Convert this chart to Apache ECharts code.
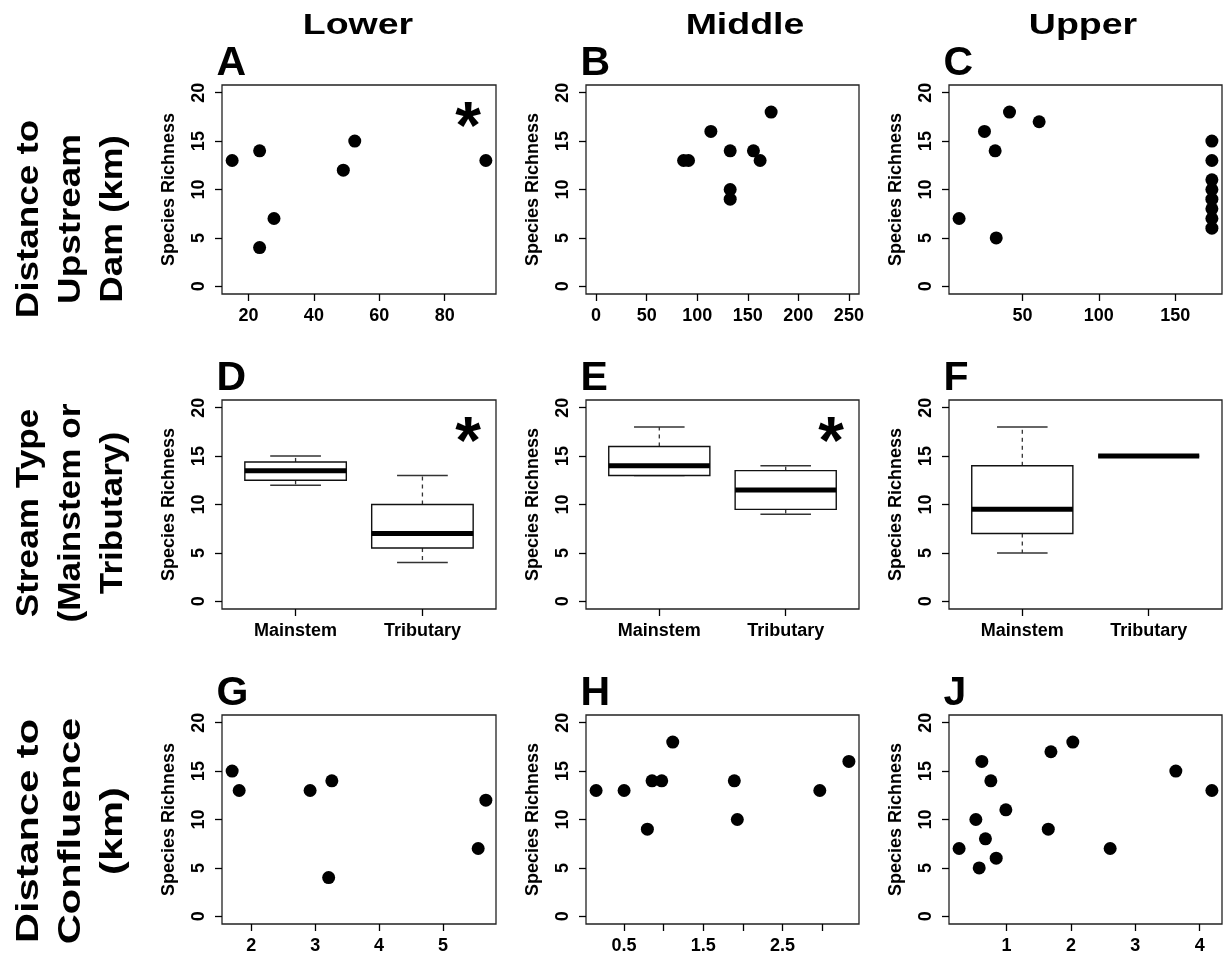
<!DOCTYPE html>
<html><head><meta charset="utf-8">
<script src="https://cdn.jsdelivr.net/npm/echarts@6/dist/echarts.min.js"></script>
<style>html,body{margin:0;padding:0;background:#fff}#c{width:1225px;height:960px}</style>
</head><body><div id="c"></div>
<script>
// ---------------- data ----------------
const columnTitles = ['Lower', 'Middle', 'Upper'];
const rowTitles = ['Distance to\nUpstream\nDam (km)', 'Stream Type\n(Mainstem or\nTributary)', 'Distance to\nConfluence\n(km)'];
const panelLetters = ['A', 'B', 'C', 'D', 'E', 'F', 'G', 'H', 'J'];
const significantPanels = ['A', 'D', 'E'];
const yAxisTitle = 'Species Richness';
const yTicks = [0, 5, 10, 15, 20];
const yLimits = [0, 20];

const lowerDamKm = [15, 23.4, 23.4, 27.8, 49.0, 52.5, 92.6];
const lowerDamRich = [13, 14, 4, 7, 12, 15, 13];
const lowerDamTicks = [20, 40, 60, 80];

const middleDamKm = [86.5, 91.4, 113.5, 132.6, 132.6, 132.6, 155.6, 162.2, 173.1];
const middleDamRich = [13, 13, 16, 14, 10, 9, 14, 13, 18];
const middleDamTicks = [0, 50, 100, 150, 200, 250];
const middleDamXlim = [0, 250];

const upperDamKm = [8.5, 25.1, 32.1, 32.8, 41.5, 60.9, 174, 174, 174, 174, 174, 174, 174, 174];
const upperDamRich = [7, 16, 14, 5, 18, 17, 15, 13, 11, 10, 9, 8, 7, 6];
const upperDamTicks = [50, 100, 150];

const streamTypes = ['Mainstem', 'Tributary'];
// each: [min, Q1, median, Q3, max]
const lowerTypeBox = [[12, 12.5, 13.5, 14.4, 15], [4, 5.5, 7, 10, 13]];
const middleTypeBox = [[13, 13, 14, 16, 18], [9, 9.5, 11.5, 13.5, 14]];
const upperTypeBox = [[5, 7, 9.5, 14, 18], [15, 15, 15, 15, 15]];

const lowerConfKm = [1.70, 1.81, 2.92, 3.26, 3.21, 5.55, 5.67];
const lowerConfRich = [15, 13, 13, 14, 4, 7, 12];
const lowerConfTicks = [2, 3, 4, 5];

const middleConfKm = [0.147, 0.5, 0.794, 0.853, 0.975, 1.114, 1.891, 1.929, 2.97, 3.337];
const middleConfRich = [13, 13, 9, 14, 14, 18, 14, 10, 13, 16];
const middleConfTicks = [0.5, 1, 1.5, 2, 2.5, 3];
const middleConfLabels = [0.5, 1.5, 2.5];

const upperConfKm = [0.264, 0.524, 0.576, 0.617, 0.673, 0.757, 0.84, 0.99, 1.649, 1.69, 2.03, 2.61, 3.63, 4.19];
const upperConfRich = [7, 10, 5, 16, 8, 14, 6, 11, 9, 17, 18, 7, 15, 13];
const upperConfTicks = [1, 2, 3, 4];

// ---------------- layout ----------------
const FONT = "'Liberation Sans', Arial, Helvetica, sans-serif";
const colLeft = [222, 586, 949];
const colWidth = [274, 273, 273];
const rowTop = [85, 400, 715];
const plotH = 209;

function rLimits(arr) {
  const lo = Math.min(...arr), hi = Math.max(...arr), d = (hi - lo) * 0.04;
  return [lo - d, hi + d];
}

const panels = [
  { kind: 'scatter', x: lowerDamKm, y: lowerDamRich, ticks: lowerDamTicks },
  { kind: 'scatter', x: middleDamKm, y: middleDamRich, ticks: middleDamTicks, xlim: middleDamXlim },
  { kind: 'scatter', x: upperDamKm, y: upperDamRich, ticks: upperDamTicks },
  { kind: 'box', stats: lowerTypeBox },
  { kind: 'box', stats: middleTypeBox },
  { kind: 'box', stats: upperTypeBox },
  { kind: 'scatter', x: lowerConfKm, y: lowerConfRich, ticks: lowerConfTicks },
  { kind: 'scatter', x: middleConfKm, y: middleConfRich, ticks: middleConfTicks, labels: middleConfLabels },
  { kind: 'scatter', x: upperConfKm, y: upperConfRich, ticks: upperConfTicks }
];

const BOX_HALF = 0.4, STAPLE_HALF = 0.2;
function boxRender(params, api) {
  const x = api.value(0);
  const mn = api.value(1), q1 = api.value(2), md = api.value(3), q3 = api.value(4), mx = api.value(5);
  const tl = api.coord([x - BOX_HALF, q3]);
  const br = api.coord([x + BOX_HALF, q1]);
  const c3 = api.coord([x, q3]), cMax = api.coord([x, mx]);
  const c1 = api.coord([x, q1]), cMin = api.coord([x, mn]);
  const sL1 = api.coord([x - STAPLE_HALF, mx]), sR1 = api.coord([x + STAPLE_HALF, mx]);
  const sL0 = api.coord([x - STAPLE_HALF, mn]), sR0 = api.coord([x + STAPLE_HALF, mn]);
  const mL = api.coord([x - BOX_HALF, md]), mR = api.coord([x + BOX_HALF, md]);
  const whisk = { stroke: '#333', lineWidth: 1.3, lineDash: [4, 4] };
  const staple = { stroke: '#333', lineWidth: 1.5 };
  return {
    type: 'group',
    children: [
      { type: 'line', shape: { x1: c3[0], y1: c3[1], x2: cMax[0], y2: cMax[1] }, style: whisk },
      { type: 'line', shape: { x1: c1[0], y1: c1[1], x2: cMin[0], y2: cMin[1] }, style: whisk },
      { type: 'line', shape: { x1: sL1[0], y1: sL1[1], x2: sR1[0], y2: sR1[1] }, style: staple },
      { type: 'line', shape: { x1: sL0[0], y1: sL0[1], x2: sR0[0], y2: sR0[1] }, style: staple },
      { type: 'rect', shape: { x: tl[0], y: tl[1], width: br[0] - tl[0], height: br[1] - tl[1] },
        style: { fill: '#fff', stroke: '#111', lineWidth: 1.4 } },
      { type: 'line', shape: { x1: mL[0], y1: mL[1], x2: mR[0], y2: mR[1] }, style: { stroke: '#000', lineWidth: 5 } }
    ]
  };
}

const grids = [], xAxes = [], yAxes = [], series = [];
const yl = rLimits(yLimits);
const labelStyle = { color: '#000', fontWeight: 'bold', fontSize: 18, fontFamily: FONT };

panels.forEach((p, i) => {
  const r = Math.floor(i / 3), c = i % 3;
  grids.push({
    left: colLeft[c], top: rowTop[r], width: colWidth[c], height: plotH,
    show: true, borderColor: '#222', borderWidth: 1.3, backgroundColor: 'transparent',
    containLabel: false, outerBoundsMode: 'none'
  });
  let xlim, ticks, labels, formatter;
  if (p.kind === 'box') {
    xlim = rLimits([0.5, streamTypes.length + 0.5]);
    ticks = streamTypes.map((_, j) => j + 1);
    labels = ticks;
    formatter = v => streamTypes[Math.round(v) - 1] || '';
  } else {
    xlim = rLimits(p.xlim || p.x);
    ticks = p.ticks;
    labels = p.labels || p.ticks;
    formatter = v => String(v);
  }
  xAxes.push({
    gridIndex: i, type: 'value', min: xlim[0], max: xlim[1], position: 'bottom',
    axisLine: { show: false, onZero: false }, splitLine: { show: false },
    axisTick: { show: true, inside: false, length: 7, customValues: ticks, lineStyle: { color: '#000', width: 1.3 } },
    axisLabel: Object.assign({ show: true, margin: 13, customValues: labels, formatter: formatter }, labelStyle)
  });
  yAxes.push({
    gridIndex: i, type: 'value', min: yl[0], max: yl[1], position: 'left',
    name: yAxisTitle, nameLocation: 'middle', nameRotate: 90, nameGap: 44,
    nameTextStyle: { color: '#000', fontWeight: 'bold', fontSize: 18, fontFamily: FONT },
    axisLine: { show: false, onZero: false }, splitLine: { show: false },
    axisTick: { show: true, inside: false, length: 7, customValues: yTicks, lineStyle: { color: '#000', width: 1.3 } },
    axisLabel: Object.assign({ show: true, margin: 14, rotate: 90, customValues: yTicks }, labelStyle)
  });
  if (p.kind === 'box') {
    series.push({
      type: 'custom', xAxisIndex: i, yAxisIndex: i, silent: true, animation: false,
      data: p.stats.map((s, j) => [j + 1].concat(s)),
      encode: { x: 0, y: [1, 2, 3, 4, 5] },
      renderItem: boxRender
    });
  } else {
    series.push({
      type: 'scatter', xAxisIndex: i, yAxisIndex: i, silent: true, animation: false,
      symbol: 'circle', symbolSize: 13, itemStyle: { color: '#000', opacity: 1 },
      data: p.x.map((v, j) => [v, p.y[j]])
    });
  }
});

// ---------------- text elements ----------------
const graphics = [];
const headerX = [358, 745, 1083];
columnTitles.forEach((t, c) => {
  graphics.push({ type: 'text', x: headerX[c], y: 26, scaleX: 1.25,
    style: { text: t, fontSize: 30, fontWeight: 'bold', fontFamily: FONT, fill: '#000',
      textAlign: 'center', textVerticalAlign: 'middle', align: 'center', verticalAlign: 'middle' } });
});
const rowY = [219, 513, 831];
const rowScale = [1.15, 1.1, 1.3];
rowTitles.forEach((t, r) => {
  graphics.push({ type: 'text', x: 71, y: rowY[r], rotation: Math.PI / 2, scaleX: rowScale[r],
    style: { text: t, fontSize: 32, fontWeight: 'bold', fontFamily: FONT, fill: '#000', lineHeight: 42,
      textAlign: 'center', textVerticalAlign: 'middle', align: 'center', verticalAlign: 'middle' } });
});
const letterRowY = [64, 379, 694];
panelLetters.forEach((L, i) => {
  const r = Math.floor(i / 3), c = i % 3;
  graphics.push({ type: 'text', x: colLeft[c] - 5.6, y: letterRowY[r],
    style: { text: L, fontSize: 41, fontWeight: 'bold', fontFamily: FONT, fill: '#000',
      textAlign: 'left', textVerticalAlign: 'middle', align: 'left', verticalAlign: 'middle' } });
  if (significantPanels.indexOf(L) >= 0) {
    graphics.push({ type: 'text', x: colLeft[c] + colWidth[c] - 28, y: rowTop[r] + 31 + 14,
      style: { text: '*', fontSize: 66, fontWeight: 'bold', fontFamily: FONT, fill: '#000',
        textAlign: 'center', textVerticalAlign: 'middle', align: 'center', verticalAlign: 'middle' } });
  }
});

const chart = echarts.init(document.getElementById('c'), null, { renderer: 'canvas' });
chart.setOption({
  backgroundColor: '#fff',
  animation: false,
  grid: grids, xAxis: xAxes, yAxis: yAxes, series: series,
  graphic: { elements: graphics }
});
</script></body></html>
